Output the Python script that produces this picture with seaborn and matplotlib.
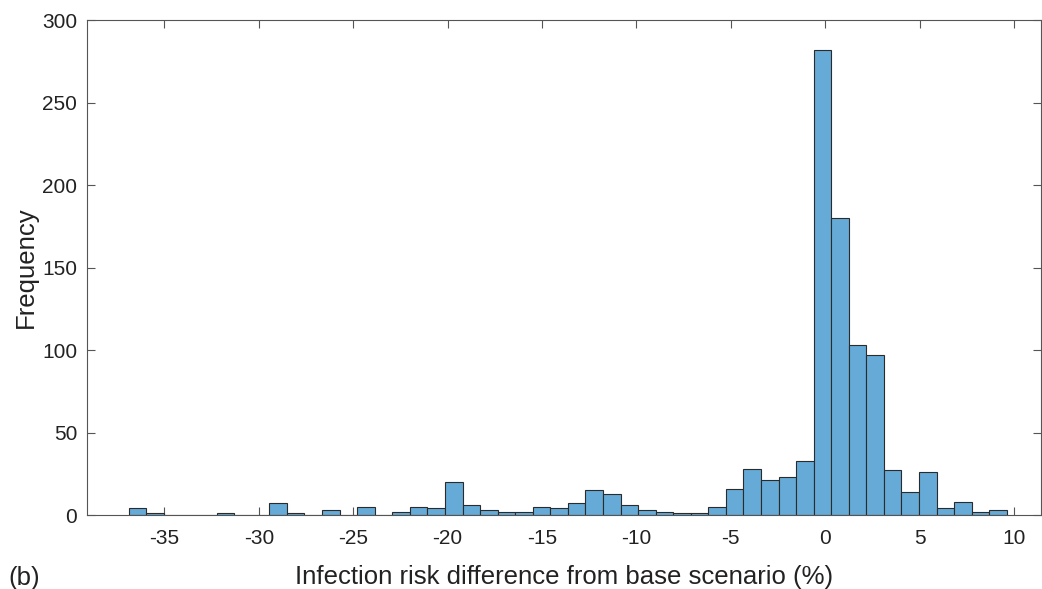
import numpy as np
import pandas as pd
import matplotlib
matplotlib.use('Agg')
import matplotlib.pyplot as plt
import seaborn as sns

# Histogram: 50 bins, width ~0.93, starting at ~-36.88
bin_start = -36.88
bin_width = 0.93
counts = [4, 1, 0, 0, 0, 1, 0, 0, 7, 1,
          0, 3, 0, 5, 0, 2, 5, 4, 20, 6,
          3, 2, 2, 5, 4, 7, 15, 13, 6, 3,
          2, 1, 1, 5, 16, 28, 21, 23, 33, 282,
          180, 103, 97, 27, 14, 26, 4, 8, 2, 3]
x_ticks = [-35, -30, -25, -20, -15, -10, -5, 0, 5, 10]
y_ticks = [0, 50, 100, 150, 200, 250, 300]

edges = bin_start + bin_width * np.arange(len(counts) + 1)
centers = (edges[:-1] + edges[1:]) / 2
df = pd.DataFrame({'diff': centers, 'n': counts})

sns.set_style("ticks")
plt.rcParams['font.family'] = ['Liberation Sans', 'DejaVu Sans']
plt.rcParams['axes.unicode_minus'] = False

fig = plt.figure(figsize=(10.42, 5.89), dpi=100)
ax = fig.add_axes([0.0835, 0.1256, 0.9155, 0.8404])

sns.histplot(data=df, x='diff', weights='n', bins=list(edges), ax=ax,
             color='#66AAD7', alpha=1.0, edgecolor='#2b2b2b', linewidth=0.8)

ax.set_xlim(-39.1, 11.43)
ax.set_ylim(0, 300)
ax.set_xticks(x_ticks)
ax.set_yticks(y_ticks)
ax.tick_params(direction='in', length=6, width=0.8, labelsize=15,
               top=True, right=True, colors='#555555', labelcolor='#222222')
ax.tick_params(axis='x', pad=10)
ax.tick_params(axis='y', pad=7)
for side in ['top', 'right', 'bottom', 'left']:
    ax.spines[side].set_visible(True)
    ax.spines[side].set_color('#555555')
    ax.spines[side].set_linewidth(0.8)

ax.set_xlabel('Infection risk difference from base scenario (%)', fontsize=18.5,
              color='#222222', labelpad=12)
ax.set_ylabel('Frequency', fontsize=18.5, color='#222222', labelpad=3)
fig.text(0.008, 0.006, '(b)', fontsize=18.5, color='#222222')

fig.savefig('out.png', dpi=100)
